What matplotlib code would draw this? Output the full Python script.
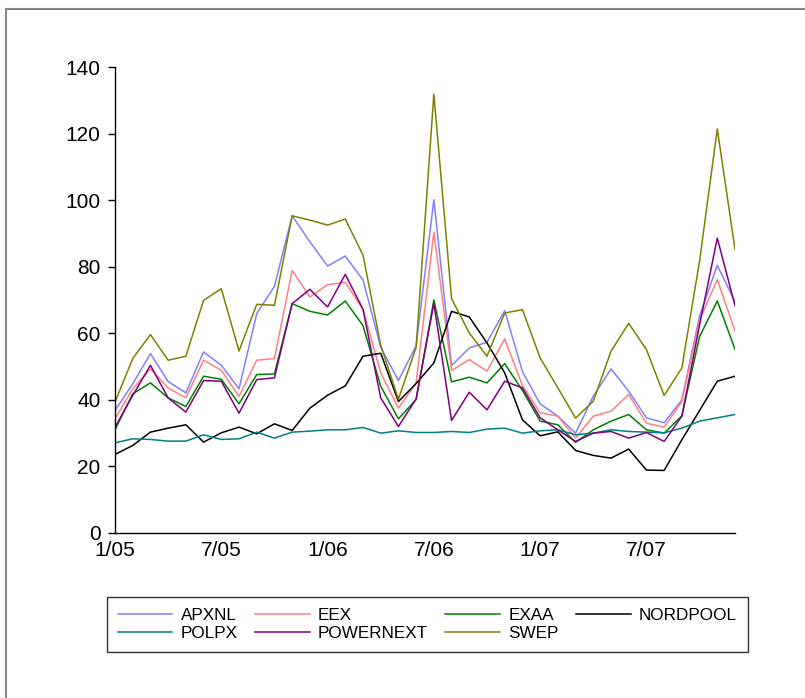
import matplotlib.pyplot as plt
import matplotlib.patches as mpatches
import numpy as np

plt.rcParams['font.family'] = ['Liberation Sans', 'DejaVu Sans']

# monthly average prices, Jan 2005 .. Dec 2007
months = np.arange(36)
tick_months = [0, 6, 12, 18, 24, 30]
tick_labels = ['1/05', '7/05', '1/06', '7/06', '1/07', '7/07']

apxnl = [36.8, 44.8, 53.9, 45.5, 42.1, 54.4, 50.4, 43.3, 65.9, 74.1, 95.3, 87.5,
         80.2, 83.2, 76.0, 55.8, 45.8, 56.3, 100.1, 50.3, 55.6, 57.3, 66.8, 48.5,
         38.8, 35.1, 30.0, 41.1, 49.3, 42.6, 34.6, 33.1, 40.0, 65.2, 80.4, 69.5]
eex = [34.3, 43.3, 49.3, 43.6, 40.6, 51.9, 48.9, 41.0, 51.9, 52.4, 78.9, 70.9,
       74.6, 75.3, 67.2, 48.1, 37.5, 45.1, 90.4, 48.8, 52.1, 48.6, 58.3, 44.3,
       36.1, 35.1, 28.5, 35.1, 36.6, 41.6, 33.0, 31.8, 39.5, 64.0, 76.1, 60.7]
exaa = [31.0, 41.8, 45.1, 40.6, 38.0, 47.1, 46.2, 38.8, 47.6, 47.8, 68.9, 66.6,
        65.5, 69.7, 62.3, 44.1, 34.3, 40.1, 70.0, 45.4, 46.8, 45.1, 50.9, 42.8,
        33.6, 32.5, 27.2, 31.0, 33.6, 35.6, 31.0, 30.0, 35.2, 59.0, 69.7, 55.2]
nordpool = [23.6, 26.3, 30.3, 31.5, 32.5, 27.3, 30.1, 31.8, 29.8, 32.8, 30.8, 37.5,
            41.4, 44.2, 53.1, 54.0, 39.5, 44.9, 51.1, 66.6, 64.9, 57.1, 48.1, 34.0,
            29.2, 30.4, 24.8, 23.3, 22.5, 25.2, 18.9, 18.8, 28.0, 36.8, 45.6, 47.1]
polpx = [27.1, 28.3, 28.1, 27.6, 27.6, 29.5, 28.1, 28.3, 30.3, 28.5, 30.3, 30.6,
         31.0, 31.0, 31.7, 30.0, 30.7, 30.2, 30.2, 30.5, 30.2, 31.2, 31.5, 30.0,
         30.7, 31.0, 29.5, 30.0, 31.0, 30.5, 30.3, 30.1, 31.5, 33.6, 34.6, 35.6]
powernext = [31.8, 41.3, 50.4, 40.6, 36.3, 45.8, 45.6, 36.0, 46.1, 46.6, 68.9, 73.2,
             67.9, 77.7, 67.2, 40.6, 32.0, 40.3, 69.0, 33.8, 42.3, 37.0, 45.6, 43.6,
             34.6, 31.0, 27.5, 30.0, 30.5, 28.5, 30.2, 27.5, 35.1, 62.5, 88.6, 68.3]
swep = [39.3, 52.4, 59.6, 51.9, 53.1, 69.9, 73.4, 54.7, 68.7, 68.4, 95.3, 94.0,
        92.5, 94.3, 83.5, 56.4, 40.2, 55.8, 131.9, 70.4, 60.1, 53.1, 66.1, 67.1,
        52.6, 43.6, 34.5, 39.6, 54.6, 63.0, 55.1, 41.3, 49.6, 81.7, 121.4, 85.2]

series = [
    ('APXNL', apxnl, '#8080ff'),
    ('EEX', eex, '#ff8080'),
    ('EXAA', exaa, '#008000'),
    ('NORDPOOL', nordpool, '#000000'),
    ('POLPX', polpx, '#008080'),
    ('POWERNEXT', powernext, '#800080'),
    ('SWEP', swep, '#808000'),
]

fig = plt.figure(figsize=(8.05, 6.98), dpi=100)
ax = fig.add_axes([115 / 805, 1 - 533 / 698, 620 / 805, 466 / 698])

lines = {}
for name, vals, col in series:
    lines[name], = ax.plot(months, vals, color=col, linewidth=1.1, label=name)

ax.set_xlim(0, 35)
ax.set_ylim(0, 140)
ax.set_yticks(np.arange(0, 141, 20))
ax.set_xticks(tick_months)
ax.set_xticklabels(tick_labels)
ax.tick_params(axis='y', direction='out', length=5, width=1, labelsize=15, pad=5.5)
ax.tick_params(axis='x', length=0, labelsize=15, pad=6)
for side in ['top', 'right']:
    ax.spines[side].set_visible(False)
for side in ['left', 'bottom']:
    ax.spines[side].set_linewidth(1.0)

# legend rows read left to right; matplotlib fills by column
order = ['APXNL', 'POLPX', 'EEX', 'POWERNEXT', 'EXAA', 'SWEP', 'NORDPOOL']
leg = fig.legend([lines[n] for n in order], order, ncol=4, loc='upper left',
                 bbox_to_anchor=(107 / 805, 1 - 597 / 698), borderaxespad=0,
                 fontsize=12.3, frameon=True, fancybox=False, handlelength=3.2,
                 handletextpad=0.5, columnspacing=1.0, borderpad=0.62,
                 labelspacing=0.2)
leg.get_frame().set_edgecolor('black')
leg.get_frame().set_linewidth(1.0)

# grey page border running off the right and bottom edges
fig.patches.append(mpatches.Rectangle((6 / 805, -0.1), 1.2, 1 - 9 / 698 + 0.1,
                                      transform=fig.transFigure, fill=False,
                                      edgecolor='#888888', linewidth=1.5))

fig.savefig('out.png', dpi=100)
